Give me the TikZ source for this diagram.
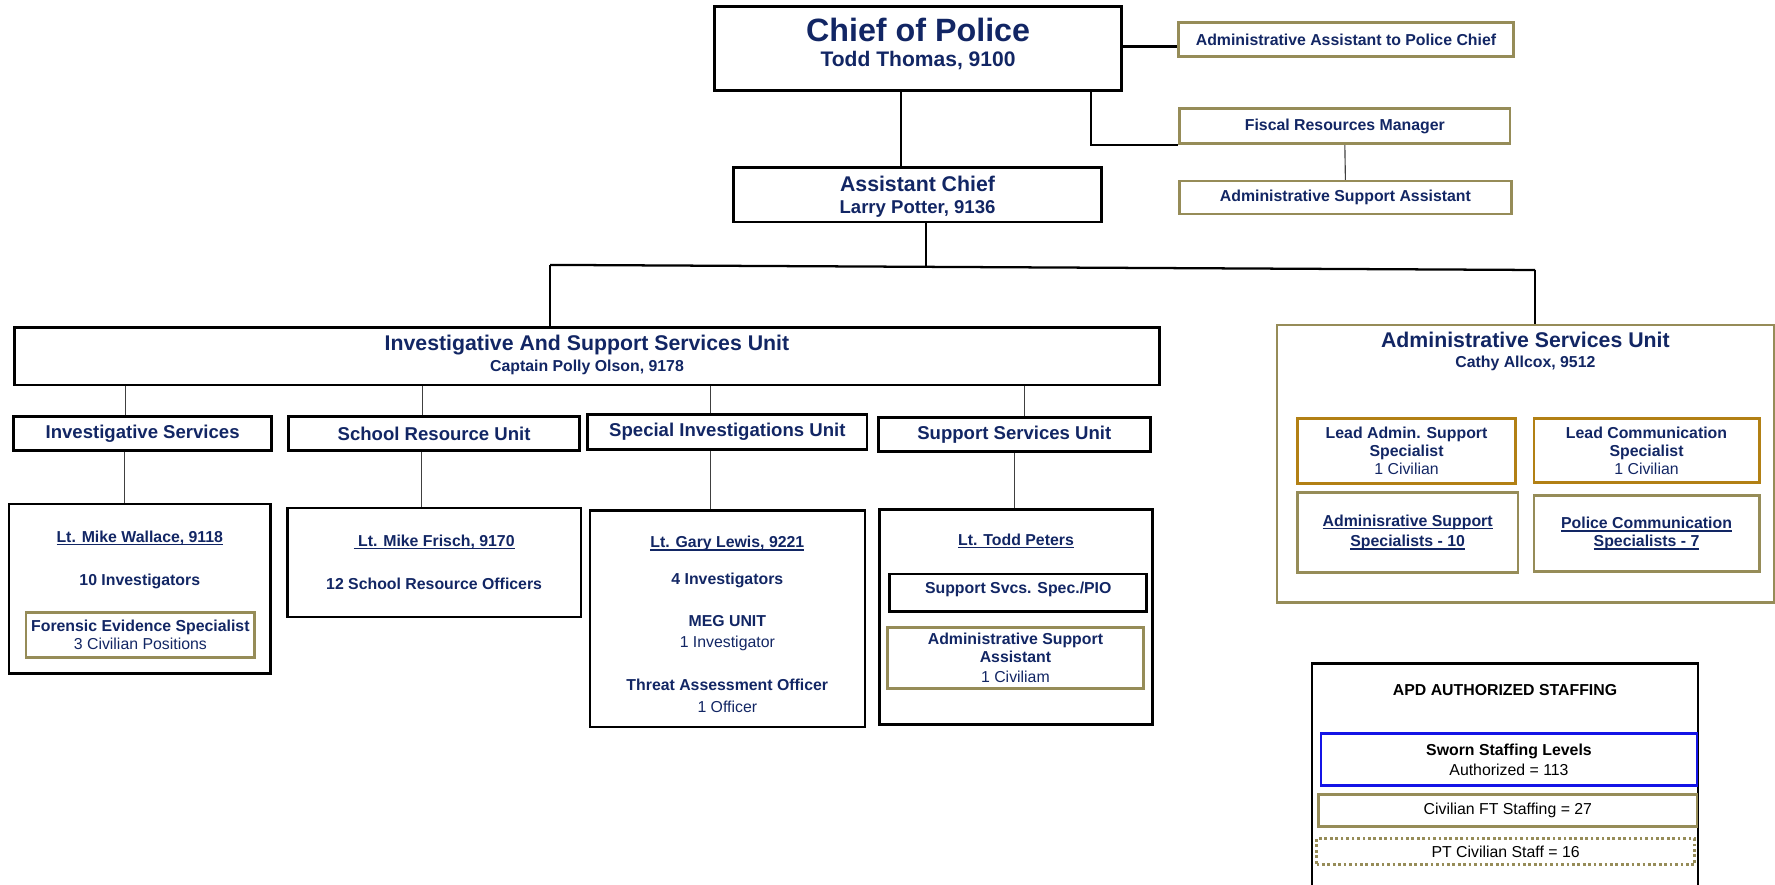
\documentclass[tikz,border=0pt]{standalone}
\usepackage{fontspec}
\setmainfont{Liberation Sans}

\definecolor{apdnavy}{RGB}{18,38,100}
\definecolor{apdolive}{RGB}{150,140,88}
\definecolor{apdgold}{RGB}{178,128,20}
\definecolor{apdblue}{RGB}{20,20,230}

% font sizes used in the chart
\newcommand\fbig{\fontsize{28.5}{31}\selectfont\bfseries}
\newcommand\ftitle{\fontsize{18.8}{20}\selectfont\bfseries}
\newcommand\fname{\fontsize{16.4}{18}\selectfont\bfseries}
\newcommand\fsmall{\fontsize{14}{16}\selectfont\bfseries}
\newcommand\fplain{\fontsize{14}{16}\selectfont\mdseries}
% underline that sits at the same height on every line
\newcommand\apdunder[1]{\setbox0\hbox{#1}\rlap{\rule[-2.4pt]{\wd0}{1.1pt}}\box0}

\tikzset{
  heavybox/.style={draw=black, line width=2.4pt, inner sep=0pt, align=center, text=apdnavy, font=\fsmall},
  olivebox/.style={heavybox, draw=apdolive},
  goldbox/.style={heavybox, draw=apdgold},
  txt/.style={anchor=base, inner sep=0pt, text=apdnavy, font=\fsmall},
  link/.style={line width=2pt, black},
  thinlink/.style={line width=1pt, black!75},
}

\begin{document}
\begin{tikzpicture}[x=1pt, y=-1pt]
     \useasboundingbox (0,0) rectangle (1568,781);

     % Chief and his own staff
     \node[heavybox, minimum width=360pt, minimum height=74pt] (chief) at (811,43) {};
     \node[txt, font=\fbig] (chieftitle) at (811,37) {Chief of Police};
     \node[txt, font=\fontsize{18.6}{20}\selectfont\bfseries] (chiefname) at (811,59) {Todd Thomas, 9100};
     \node[olivebox, minimum width=296pt, minimum height=30pt] (aapc) at (1189,35) {Administrative Assistant to Police Chief};
     \node[olivebox, minimum width=292pt, minimum height=31pt] (frm) at (1188,111.5) {Fiscal Resources Manager};
     \node[olivebox, minimum width=293pt, minimum height=29pt] (asatop) at (1188.5,174.5) {Administrative Support Assistant};

     % Assistant chief
     \node[heavybox, minimum width=325pt, minimum height=48pt] (ac) at (810.5,172) {};
     \node[txt, font=\ftitle] (actitle) at (810.5,169) {Assistant Chief};
     \node[txt, font=\fname] (acname) at (810.5,189) {Larry Potter, 9136};

     % The two units under the assistant chief
     \node[heavybox, minimum width=1011pt, minimum height=51pt] (issu) at (518.5,314.5) {};
     \node[txt, font=\ftitle] (issutitle) at (518.5,310) {Investigative And Support Services Unit};
     \node[txt] (issuname) at (518.5,328) {Captain Polly Olson, 9178};
     \node[olivebox, minimum width=439pt, minimum height=245pt] (asu) at (1347.5,409.5) {};
     \node[txt, font=\ftitle] (asutitle) at (1347.5,307) {Administrative Services Unit};
     \node[txt] (asuname) at (1347.5,325) {Cathy Allcox, 9512};

     % Sections of the investigative and support services unit
     \node[heavybox, font=\fname, minimum width=228pt, minimum height=30pt] (invs) at (126,383) {Investigative Services};
     \node[heavybox, font=\fname, minimum width=257pt, minimum height=30pt] (sru) at (383.5,383) {School Resource Unit};
     \node[heavybox, font=\fname, minimum width=247pt, minimum height=31pt] (siu) at (642.5,381.5) {Special Investigations Unit};
     \node[heavybox, font=\fname, minimum width=240pt, minimum height=30pt] (ssu) at (896,384) {Support Services Unit};

     % Lieutenants and their people
     \node[heavybox, line width=2pt, minimum width=231pt, minimum height=150pt] (wallace) at (123.5,520) {};
     \node[txt] (wallacelt) at (123.5,479) {\apdunder{Lt. Mike Wallace, 9118}};
     \node[txt] (wallaceinv) at (123.5,517) {10 Investigators};
     \node[olivebox, minimum width=202pt, minimum height=40pt] (forensic) at (124,561) {Forensic Evidence Specialist\\{\fplain 3 Civilian Positions}};

     \node[heavybox, line width=2pt, minimum width=259pt, minimum height=96pt] (frisch) at (383.5,497) {};
     \node[txt] (frischlt) at (383.5,483) {\apdunder{\ Lt. Mike Frisch, 9170}};
     \node[txt] (frischsro) at (383.5,521) {12 School Resource Officers};

     \node[heavybox, line width=2pt, minimum width=243pt, minimum height=191pt] (lewis) at (642.5,546.5) {};
     \node[txt] (lewislt) at (642.5,484) {\apdunder{Lt. Gary Lewis, 9221}};
     \node[txt] (lewisinv) at (642.5,516) {4 Investigators};
     \node[txt] (meg) at (642.5,553) {MEG UNIT};
     \node[txt, font=\fplain] (megcount) at (642.5,572) {1 Investigator};
     \node[txt] (threat) at (642.5,610) {Threat Assessment Officer};
     \node[txt, font=\fplain] (threatcount) at (642.5,629) {1 Officer};

     \node[heavybox, line width=2pt, minimum width=241pt, minimum height=190pt] (peters) at (897.5,545) {};
     \node[txt] (peterslt) at (897.5,482) {\apdunder{Lt. Todd Peters}};
     \node[heavybox, minimum width=227pt, minimum height=33pt] (pio) at (899.5,523.5) {};
     \node[txt] (piotext) at (899.5,524) {Support Svcs. Spec./PIO};
     \node[olivebox, minimum width=226pt, minimum height=54pt] (asalow) at (897,581) {Administrative Support\\Assistant\\[1pt]{\fplain 1 Civiliam}};

     % Inside the administrative services unit
     \node[goldbox, minimum width=193pt, minimum height=57pt] (leadadm) at (1242.5,398.5) {Lead Admin. Support\\Specialist\\{\fplain 1 Civilian}};
     \node[goldbox, minimum width=199pt, minimum height=56pt] (leadcom) at (1454.5,398) {Lead Communication\\Specialist\\{\fplain 1 Civilian}};
     \node[olivebox, minimum width=195pt, minimum height=71pt] (admspec) at (1243.5,470.5) {\apdunder{Adminisrative Support}\\[2pt]\apdunder{Specialists - 10}};
     \node[olivebox, minimum width=199pt, minimum height=67pt] (polcom) at (1454.5,471.5) {\apdunder{Police Communication}\\\apdunder{Specialists - 7}};

     % Staffing summary, its bottom edge runs off the page
     \node[heavybox, line width=2pt, minimum width=341pt, minimum height=206pt] (staff) at (1329.5,689) {};
     \node[txt, text=black] (stafftitle) at (1329.5,614.5) {APD AUTHORIZED STAFFING};
     \node[heavybox, draw=apdblue, text=black, minimum width=332pt, minimum height=46pt] (sworn) at (1333,671) {Sworn Staffing Levels\\[2pt]{\fplain Authorized = 113}};
     \node[olivebox, text=black, font=\fplain, minimum width=334pt, minimum height=28pt] (civft) at (1332,716) {Civilian FT Staffing = 27};
     \node[olivebox, line width=2.6pt, dash pattern=on 2.4pt off 2.4pt, text=black, font=\fplain, minimum width=334pt, minimum height=23pt] (ptciv) at (1330,752.5) {PT Civilian Staff = 16};

     % Connectors: chief and staff
     \draw[link] (chief.east |- 0,41) -- (aapc.west |- 0,41);
     \draw[link] (chief.south -| 964,0) |- (frm.south west);
     \draw[thinlink] (frm.south) -- (asatop.north);
     \draw[link] (chief.south -| 796,0) -- (ac.north -| 796,0);

     % Connectors: assistant chief to the two units, over a bus line
     \coordinate (busl) at (486,234);
     \coordinate (busac) at (818,235.7);
     \coordinate (busr) at (1356,238.5);
     \draw[link] (ac.south -| busac) -- (busac);
     \draw[link] (busl) -- (busr);
     \draw[link] (busl) -- (issu.north -| busl);
     \draw[link] (busr) -- (asu.north -| busr);

     % Connectors: sections and lieutenants
     \foreach \x/\u in {111/invs, 373/sru, 628/siu, 905/ssu}
         \draw[thinlink] (issu.south -| \x,0) -- (\u.north -| \x,0);
     \foreach \x/\u/\d in {110/invs/wallace, 372/sru/frisch, 628/siu/lewis, 896/ssu/peters}
         \draw[thinlink] (\u.south -| \x,0) -- (\d.north -| \x,0);
\end{tikzpicture}
\end{document}
